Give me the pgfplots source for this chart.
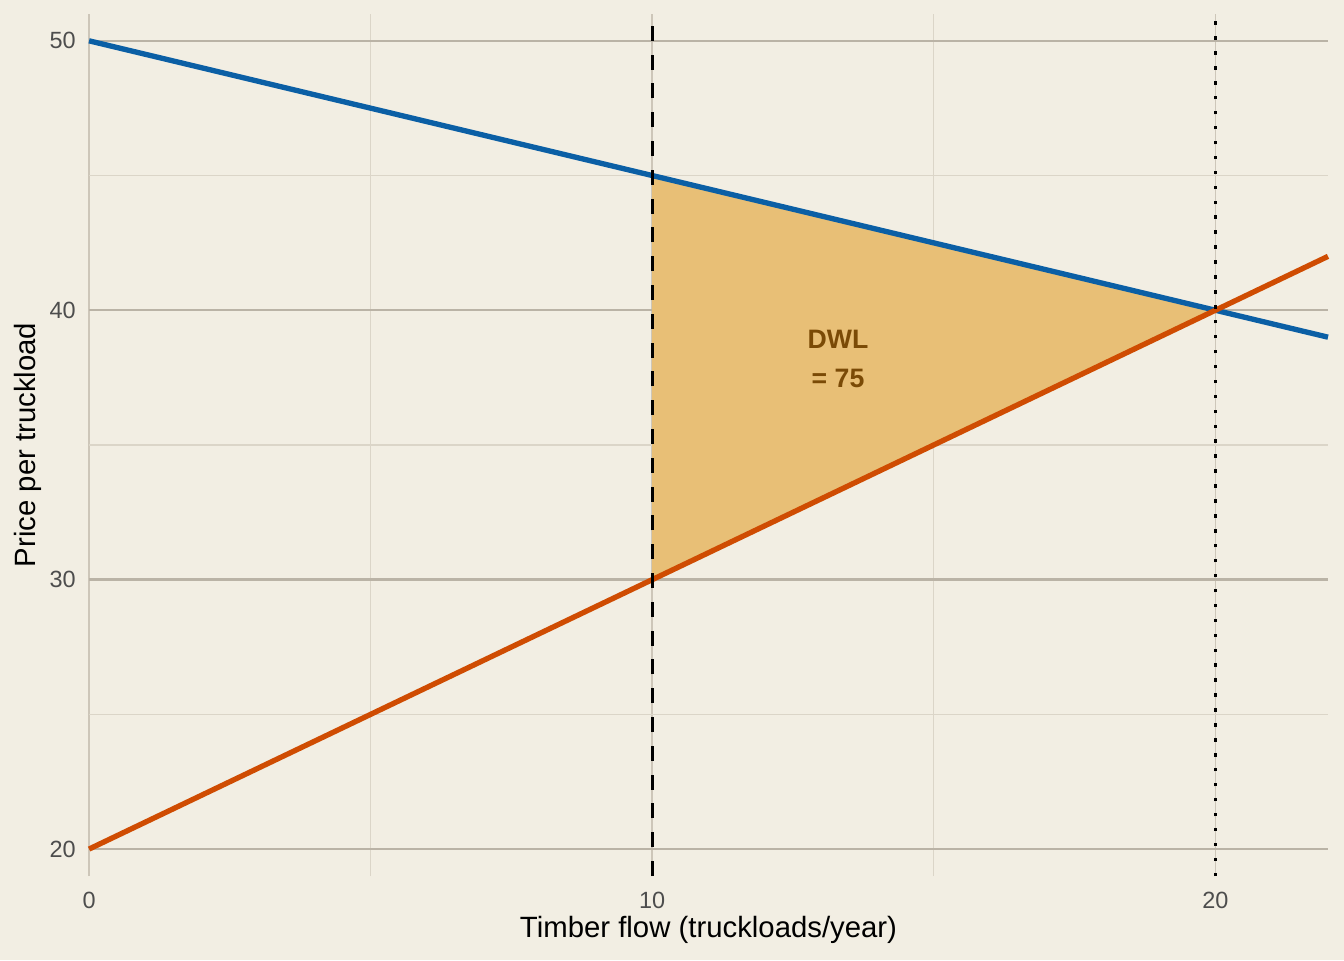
\documentclass[border=0pt]{standalone}
\usepackage{pgfplots}
\pgfplotsset{compat=1.18}
\usepackage{fontspec}
\setmainfont{Liberation Sans}

\definecolor{bgcol}{HTML}{F2EEE3}
\definecolor{demandcol}{HTML}{0B5FA5}
\definecolor{supplycol}{HTML}{CF4C02}
\definecolor{dwlfill}{HTML}{E8BF76}
\definecolor{dwltext}{HTML}{7A4A06}
\definecolor{majgrid}{HTML}{BAB3A6}
\definecolor{xgrid}{HTML}{CDC6B9}
\definecolor{mingrid}{HTML}{DBD5C8}
\definecolor{ticktext}{HTML}{4D4D4D}

\begin{document}
\begin{tikzpicture}
\path[use as bounding box, fill=bgcol] (0,0) rectangle (504pt,360pt);
\begin{axis}[
    at={(33.4pt,31.5pt)}, anchor=south west,
    scale only axis,
    width=464.6pt, height=323.3pt,
    xmin=0, xmax=22, ymin=19, ymax=51,
    xtick={0,10,20}, ytick={20,30,40,50},
    minor xtick={5,15}, minor ytick={25,35,45},
    xmajorgrids, ymajorgrids, xminorgrids, yminorgrids,
    major x grid style={xgrid, line width=0.6pt},
    major y grid style={majgrid, line width=0.9pt},
    minor grid style={mingrid, line width=0.45pt},
    axis line style={draw=none},
    tick style={draw=none},
    ticklabel style={font=\fontsize{8.8}{10}\selectfont, text=ticktext},
    /pgf/number format/assume math mode=true,
    xticklabel style={yshift=-2.5pt},
    yticklabel style={xshift=-1.5pt},
    xlabel={Timber flow (truckloads/year)},
    ylabel={Price per truckload},
    label style={font=\fontsize{11}{13}\selectfont},
    xlabel style={yshift=4pt},
    ylabel style={yshift=-4pt},
    clip=false,
]
% deadweight loss triangle
\addplot[draw=none, fill=dwlfill] coordinates {(10,45) (20,40) (10,30)} -- cycle;

% demand and supply
\addplot[demandcol, line width=2pt] coordinates {(0,50) (22,39)};
\addplot[supplycol, line width=2pt] coordinates {(0,20) (22,42)};

% quantity markers
\addplot[black, line width=1.2pt, dash pattern=on 5.6pt off 5.2pt] coordinates {(10,19) (10,51)};
\addplot[black, line width=1.2pt, dash pattern=on 1.3pt off 4.3pt] coordinates {(20,19) (20,51)};

\node[font=\bfseries\fontsize{10}{14.6}\selectfont, text=dwltext, align=center]
    at (axis cs:13.3,38.2) {DWL\\= 75};
\end{axis}
\end{tikzpicture}
\end{document}
